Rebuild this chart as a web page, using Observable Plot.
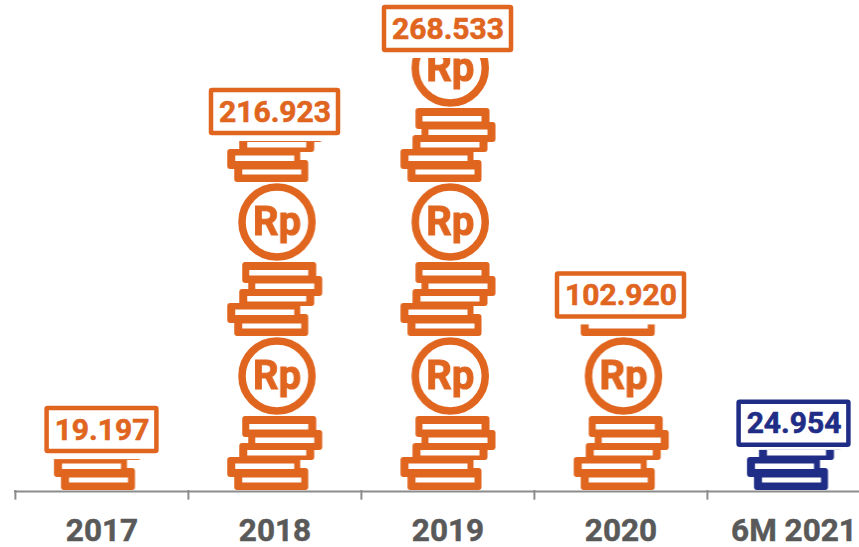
<!DOCTYPE html>
<html><head><meta charset="utf-8">
<style>html,body{margin:0;padding:0;background:#fff}svg{display:block}</style>
<script src="https://cdn.jsdelivr.net/npm/d3@7"></script>
<script src="https://cdn.jsdelivr.net/npm/@observablehq/plot@0.6"></script>
</head><body><script>
const years = ["2017","2018","2019","2020","6M 2021"];
const values = [19.197,216.923,268.533,102.920,24.954];
const labels = ["19.197","216.923","268.533","102.920","24.954"];
const kinds = ["actual","actual","actual","actual","half"];
const palette = {actual:"#e0651f", half:"#1f2d86"};
const rows = years.map((year,i)=>({year,value:values[i],label:labels[i],kind:kinds[i]}));

// One coin-stack + Rp-coin tile of the pictogram, used as a pattern fill for the bars
function coinPattern(id,color){
  const ns="http://www.w3.org/2000/svg";
  const p=document.createElementNS(ns,"pattern");
  p.setAttribute("id",id);p.setAttribute("patternUnits","userSpaceOnUse");
  p.setAttribute("width",173.25);p.setAttribute("height",154);
  p.setAttribute("patternTransform","translate(14,336)");
  const add=(t,a,txt)=>{const e=document.createElementNS(ns,t);for(const k in a)e.setAttribute(k,a[k]);if(txt)e.textContent=txt;p.appendChild(e);};
  const layers=[[55,80,74,21,62,88,59,5.5],[61,94,74,20,68,101.5,59,5.5],[52,107,75,17,60,114,59,5.5],[40,121,73,20,48,127.5,59,5.5],[47,132,74,22,55,141.5,59,5]];
  for(const l of layers) add("rect",{x:l[0],y:l[1],width:l[2],height:l[3],rx:3,fill:color});
  for(const l of layers) add("rect",{x:l[4],y:l[5],width:l[6],height:l[7],fill:"#fff"});
  add("circle",{cx:89.75,cy:40,r:35,fill:"none",stroke:color,"stroke-width":7.5});
  add("text",{x:89.75,y:53,"text-anchor":"middle","font-family":"Roboto","font-weight":700,"font-size":40,fill:color,stroke:color,"stroke-width":1},"Rp");
  return p;
}
const defs=()=>{const ns="http://www.w3.org/2000/svg";const d=document.createElementNS(ns,"defs");
  d.appendChild(coinPattern("coin-actual",palette.actual));d.appendChild(coinPattern("coin-half",palette.half));return d;};

const box=(data,inset,top,bottom)=>Plot.barY(data,{x:"year",y1:"value",y2:"value",fill:"#fff",
  stroke:d=>palette[d.kind],strokeWidth:4.5,rx:1,insetLeft:inset,insetRight:inset,insetTop:top,insetBottom:bottom});
const label=(data,dy)=>Plot.text(data,{x:"year",y:"value",text:"label",dy,fill:d=>palette[d.kind],stroke:d=>palette[d.kind],strokeWidth:0.6,
  fontSize:30,fontWeight:700,lineAnchor:"middle",textAnchor:"middle"});

const chart=Plot.plot({
  width:859,height:547,marginLeft:14,marginRight:0,marginTop:0,marginBottom:57,
  style:{fontFamily:"Roboto",background:"#fff"},
  x:{type:"band",domain:years,range:[14,880.25],padding:0,label:null,axis:null},
  y:{domain:[0,268.533],range:[490,58],label:null,axis:null},
  color:{type:"identity"},
  marks:[
    defs,
    Plot.barY(rows,{x:"year",y:"value",fill:d=>`url(#coin-${d.kind})`}),
    Plot.ruleY([0],{stroke:"#8c8c8c",strokeWidth:2,dy:1}),
    Plot.ruleX(rows,{x:"year",dx:-86.6,y1:0,y2:-6,stroke:"#8c8c8c",strokeWidth:2}),
    box(rows.filter(d=>d.label.length>6),23,-51,8),
    box(rows.filter(d=>d.year==="2017"),31.6,-51,8),
    box(rows.filter(d=>d.kind==="half"),31.6,-48,5),
    label(rows.filter(d=>d.kind!=="half"),-29.5),
    label(rows.filter(d=>d.kind==="half"),-26.5),
    Plot.text(rows,{x:"year",y:0,text:"year",dy:40,fill:"#595959",stroke:"#595959",strokeWidth:0.5,fontSize:31.5,fontWeight:700,lineAnchor:"middle",textAnchor:"middle"})
  ]
});
document.body.appendChild(chart);
</script></body></html>
